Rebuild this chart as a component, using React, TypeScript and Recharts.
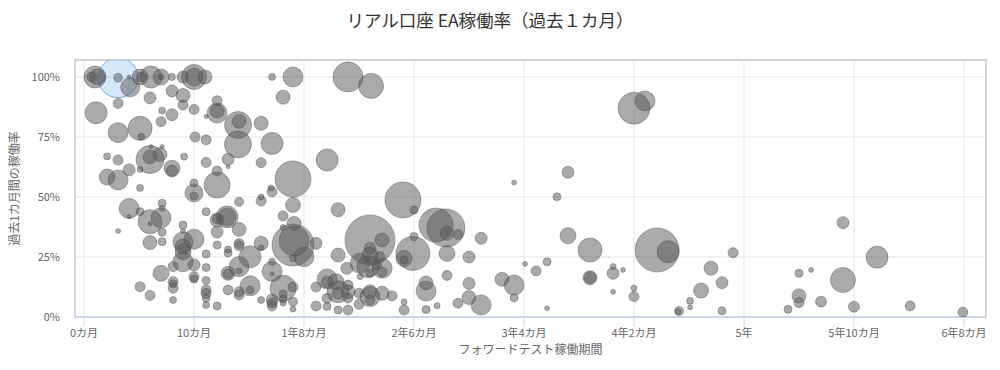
import React from 'react';
import { ScatterChart, Scatter, XAxis, YAxis, ZAxis, CartesianGrid, ReferenceArea, Label } from 'recharts';

// フォワードテスト稼働期間 (months)
const months = [
  1.0,1.2,0.7,3.1,4.1,4.2,5.2,5.1,6.1,7.0,
  7.0,8.0,9.0,10.0,10.0,11.0,17.1,19.0,24.0,26.1,
  1.1,3.1,6.0,8.0,9.0,9.0,10.0,7.1,8.0,7.0,
  12.1,12.1,12.1,11.1,3.1,5.1,5.2,10.1,11.1,14.0,
  14.1,14.0,16.1,17.1,18.1,50.0,51.0,2.1,3.1,6.0,
  6.0,6.9,7.1,6.1,8.0,8.0,9.1,11.1,13.1,13.1,
  12.1,2.1,3.1,4.1,5.1,5.1,10.0,10.0,10.0,12.1,
  14.1,16.1,16.1,16.1,17.1,17.0,19.0,22.1,19.0,23.1,
  4.1,4.1,5.1,7.1,7.1,6.0,7.0,6.0,7.1,7.1,
  3.1,6.0,9.0,9.0,9.0,9.0,10.0,9.0,9.0,7.0,
  8.1,8.1,8.1,8.1,8.1,5.1,6.0,10.0,10.0,10.0,
  11.1,11.1,11.1,11.1,11.1,11.1,11.1,12.1,11.1,12.1,
  12.1,12.1,12.1,13.0,13.0,14.1,13.1,13.1,13.1,13.1,
  14.1,14.1,14.1,14.1,15.1,15.1,15.1,14.1,13.1,16.1,
  16.1,17.1,17.1,17.1,16.1,17.1,17.1,17.1,18.1,18.1,
  18.1,18.1,19.1,19.0,18.1,19.1,18.1,
  20.0,19.0,19.0,19.0,19.0,21.1,21.1,21.1,22.1,22.1,
  22.9,23.1,22.1,22.1,23.1,23.1,
  14.1,
  29.0,30.0,26.0,27.1,23.9,25.1,26.0,26.0,25.8,27.1,
  26.9,27.1,26.6,26.0,25.1,29.9,29.1,29.1,30.0,32.0,
  32.9,33.0,34.0,36.1,33.0,35.0,
  23.1,24.0,24.0,24.0,25.0,26.0,26.0,26.0,27.1,28.0,25.0,24.0,
  29.1,29.1,31.1,32.1,31.1,31.1,33.0,34.0,35.0,35.0,
  36.1,38.0,39.1,39.1,40.1,41.1,42.1,42.1,44.0,46.0,
  46.0,46.0,48.1,48.1,49.0,48.1,50.0,50.0,52.1,53.1,
  54.0,39.1,44.0,43.0,59.0,57.0,58.0,56.1,55.1,55.1,
  54.1,58.0,64.0,65.0,66.1,65.0,65.0,67.0,69.0,69.0,
  70.0,72.1,75.1,79.9,
];

// 過去1カ月間の稼働率 (%)
const rates = [
  100,100,100,99.7,100,95.7,100,100,100,100,
  100,100,100,100,100,100,100,100,100,96.3,
  85.1,89.0,91.3,94.2,92.3,88.3,86.5,86.0,84.3,81.4,
  90.1,85.0,85.8,83.5,76.8,78.6,75.1,75.0,73.8,80.0,
  81.5,71.9,80.7,72.3,91.6,87.0,90.0,66.9,65.4,65.6,
  66.7,67.7,71.0,71.0,62.0,60.8,66.8,64.4,65.7,62.6,
  60.8,58.3,57.1,61.3,61.5,53.8,55.8,51.7,50.4,55.0,
  48.0,48.3,50.0,64.3,52.2,53.8,57.5,65.4,46.7,44.7,
  45.2,41.8,43.9,47.4,45.3,39.7,41.3,38.8,35.3,31.4,
  35.8,31.0,38.3,35.8,31.3,29.2,32.4,23.0,27.1,18.2,
  21.0,14.7,13.8,12.0,7.1,12.6,9.0,21.7,16.8,15.8,
  26.3,20.6,15.2,11.3,9.8,7.9,5.0,4.6,43.9,40.4,
  40.8,35.4,30.0,41.7,41.7,36.5,28.1,26.7,18.2,17.9,
  29.7,30.6,21.0,19.2,25.1,13.0,11.3,9.2,11.3,30.7,
  28.8,23.0,19.0,17.9,7.1,7.1,5.8,4.6,12.0,9.6,
  7.5,5.8,31.7,30.0,42.1,39.0,37.3,
  25.1,24.5,12.5,6.4,3.3,30.7,12.5,4.6,15.8,14.6,
  14.7,10.5,7.8,4.4,2.9,25.8,
  10.5,
  48.8,44.6,32.1,32.1,20.3,22.4,28.6,25.8,21.0,20.3,
  25.1,18.8,21.7,18.2,16.8,26.5,24.4,23.8,33.5,38.3,
  37.1,34.9,34.4,32.8,26.5,25.0,
  9.9,10.5,13.3,7.9,9.9,8.5,10.5,7.1,9.9,8.8,5.3,2.9,
  6.3,2.9,3.1,4.7,10.8,14.2,17.3,5.7,8.1,14.0,
  5.0,15.7,13.3,8.0,22.1,19.2,23.0,3.6,33.9,27.9,
  16.4,16.4,18.2,21.0,19.6,10.5,12.0,8.5,27.9,27.2,
  2.2,56.0,60.3,50.1,26.8,20.3,14.3,11.0,6.7,4.0,
  2.5,2.6,3.2,18.2,19.6,8.8,6.0,6.4,39.3,15.4,
  4.3,24.9,4.6,2.0,
];

// bubble size (area)
const sizes = [
  121,64,25,20,4,90,25,64,121,64,
  9,12,36,156,81,49,12,100,225,156,
  121,25,36,36,49,25,25,12,36,25,
  25,100,49,4,100,144,12,25,25,182,
  49,182,49,121,49,256,100,12,25,196,
  49,49,4,4,64,36,12,25,36,4,
  25,64,100,36,9,12,16,81,16,169,
  20,25,9,25,25,9,324,121,56,49,
  100,4,16,16,9,144,100,4,16,16,
  6,49,16,6,100,64,100,100,64,64,
  25,25,16,25,12,25,25,36,25,16,
  16,16,16,25,25,16,12,16,16,49,
  25,36,16,121,81,49,12,16,49,25,
  25,25,100,9,121,100,16,25,25,49,
  9,12,100,4,12,36,25,25,169,16,
  16,9,225,441,25,49,9,
  100,12,25,20,9,36,25,25,100,36,
  64,121,25,16,16,49,
  25,
  324,16,625,49,36,100,36,64,121,100,
  25,25,25,16,9,289,64,16,16,289,
  361,49,25,36,64,36,
  36,49,25,25,25,100,49,25,49,25,25,25,
  9,25,16,9,100,49,25,25,49,36,
  100,49,100,16,6,25,16,6,64,144,
  49,36,36,9,6,6,9,25,484,121,
  9,6,36,16,25,49,36,56,12,6,
  20,16,16,16,6,49,25,30,36,156,
  30,121,25,25,
];

// highlighted (hovered) bubble
const hoverMonths = [3.1];
const hoverRates = [99.7];
const hoverSizes = [400];

const xTicks = [0, 10, 20, 30, 40, 50, 60, 70, 80];
const xTickLabels = ['0カ月', '10カ月', '1年8カ月', '2年6カ月', '3年4カ月', '4年2カ月', '5年', '5年10カ月', '6年8カ月'];
const yTicks = [0, 25, 50, 75, 100];
const yTickLabels = ['0%', '25%', '50%', '75%', '100%'];

const X_MIN = -0.818;
const X_MAX = 82;
const Y_MIN = 0;
const Y_MAX = 107.08;

const FONT = '"Noto Sans CJK JP", "Noto Sans", sans-serif';

export default function App() {
  const data = months.map((m, i) => ({ x: m, y: rates[i], z: sizes[i] }));
  const hoverData = hoverMonths.map((m, i) => ({ x: m, y: hoverRates[i], z: hoverSizes[i] }));
  const fmtX = (v: number) => {
    const i = xTicks.indexOf(v);
    return i >= 0 ? xTickLabels[i] : '';
  };
  const fmtY = (v: number) => {
    const i = yTicks.indexOf(v);
    return i >= 0 ? yTickLabels[i] : '';
  };
  return (
    <div style={{ position: 'absolute', left: 0, top: 0, width: 1000, height: 370, background: '#fff', fontFamily: FONT }}>
      <div style={{ position: 'absolute', left: 0, top: 8, width: 980, textAlign: 'center', fontSize: 17.5, color: '#333', lineHeight: '24px' }}>
        リアル口座 EA稼働率（過去１カ月）
      </div>
      <ScatterChart width={1000} height={370} margin={{ top: 60, right: 14, bottom: 23, left: 0 }}>
        <CartesianGrid stroke="#e6e6e6" strokeWidth={1} />
        <ReferenceArea x1={X_MIN} x2={X_MAX} y1={Y_MIN} y2={Y_MAX} fill="none" stroke="#d4d4d4" strokeWidth={2} />
        <XAxis
          type="number"
          dataKey="x"
          domain={[X_MIN, X_MAX]}
          ticks={xTicks}
          tickFormatter={fmtX}
          allowDataOverflow
          height={30}
          tickSize={10}
          tickMargin={2}
          axisLine={{ stroke: '#ccd6eb', strokeWidth: 2 }}
          tickLine={{ stroke: '#ccd6eb' }}
          tick={{ fill: '#666', fontSize: 11, fontFamily: FONT }}
        >
          <Label value="フォワードテスト稼働期間" position="bottom" offset={-2} style={{ fill: '#666', fontSize: 12, fontFamily: FONT }} />
        </XAxis>
        <YAxis
          type="number"
          dataKey="y"
          domain={[Y_MIN, Y_MAX]}
          ticks={yTicks}
          tickFormatter={fmtY}
          allowDataOverflow
          width={75}
          tickSize={0}
          tickMargin={15}
          axisLine={{ stroke: '#cfd5de', strokeWidth: 2 }}
          tickLine={false}
          tick={{ fill: '#666', fontSize: 11, fontFamily: FONT }}
        >
          <Label value="過去1カ月間の稼働率" angle={-90} position="insideLeft" offset={15} style={{ fill: '#666', fontSize: 12, fontFamily: FONT, textAnchor: 'middle' }} />
        </YAxis>
        <ZAxis type="number" dataKey="z" domain={[0, 700]} range={[0, 700 * Math.PI]} />
        <Scatter data={hoverData} fill="#7cb5ec" fillOpacity={0.3} stroke="#6aa8e8" strokeWidth={1} isAnimationActive={false} />
        <Scatter data={data} fill="#555" fillOpacity={0.5} stroke="#555" strokeOpacity={0.45} strokeWidth={1} isAnimationActive={false} />
      </ScatterChart>
    </div>
  );
}
